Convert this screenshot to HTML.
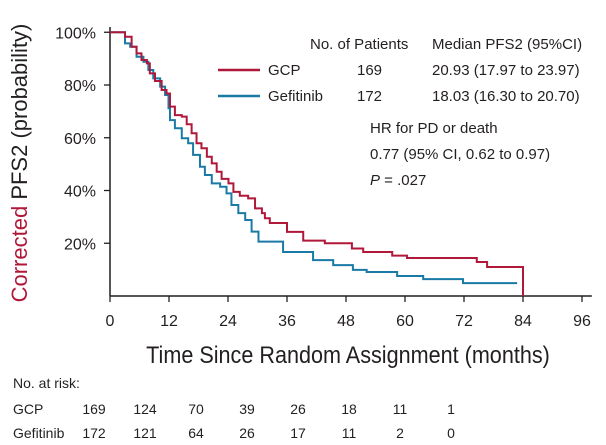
<!DOCTYPE html>
<html><head><meta charset="utf-8"><style>
body{margin:0;background:#fff;}
svg{display:block;font-family:"Liberation Sans",sans-serif;}
</style></head><body>
<svg id="chart" width="606" height="445" viewBox="0 0 606 445">
<g id="axes"></g>
<g id="curves"></g>
<text x="27" y="163" transform="rotate(-90 27 163)" text-anchor="middle" font-size="22" fill="#231f20"><tspan fill="#b0183a">Corrected</tspan> PFS2 (probability)</text>
<text x="348" y="363" text-anchor="middle" font-size="24" fill="#231f20" transform="translate(348 0) scale(0.9 1) translate(-348 0)">Time Since Random Assignment (months)</text>
<g font-size="15" fill="#231f20">
<text x="310" y="49">No. of Patients</text>
<text x="432" y="49">Median PFS2 (95%CI)</text>
<line x1="218" y1="70" x2="260" y2="70" stroke="#b0183a" stroke-width="2.5"/>
<text x="268" y="75">GCP</text>
<text x="357" y="75">169</text>
<text x="432" y="75">20.93 (17.97 to 23.97)</text>
<line x1="218" y1="96" x2="260" y2="96" stroke="#1a7aa6" stroke-width="2.5"/>
<text x="268" y="101">Gefitinib</text>
<text x="357" y="101">172</text>
<text x="432" y="101">18.03 (16.30 to 20.70)</text>
<text x="370" y="133">HR for PD or death</text>
<text x="370" y="159">0.77 (95% CI, 0.62 to 0.97)</text>
<text x="370" y="185"><tspan font-style="italic">P</tspan> = .027</text>
</g>
<g id="risk" font-size="14" fill="#231f20">
<text x="13" y="388">No. at risk:</text>
<text x="13" y="414">GCP</text>
<text x="13" y="438">Gefitinib</text>
</g>
</svg>
<script>
const xTicks=[0,12,24,36,48,60,72,84,96];
const yTicks=[20,40,60,80,100];
const gcpTime=[0,1.7,3.05,4.4,5.4,6.4,7.5,8.1,9.15,10.5,11.5,12.2,13.2,14.6,15.6,16.6,17.6,18.6,19.7,20.7,21.7,22.7,24.1,25.1,26.4,28.1,29.5,30.9,31.5,32.5,36,39.3,43.7,49.2,51.5,57.4,60.4,74.6,76.7,84];
const gcpSurv=[1,1,0.983,0.945,0.92,0.895,0.882,0.844,0.815,0.781,0.768,0.718,0.686,0.68,0.651,0.617,0.579,0.56,0.528,0.503,0.471,0.444,0.427,0.395,0.38,0.37,0.332,0.314,0.295,0.277,0.243,0.21,0.20,0.18,0.167,0.153,0.144,0.129,0.11,0];
const gefTime=[0,2,3.05,4.1,5.4,6.8,7.8,8.8,10.2,11.2,11.9,12.2,13.2,14.6,15.9,16.9,18.3,19.3,20.7,22.4,23.7,24.7,26.1,27.5,28.8,30.2,35.2,41.3,45.4,49.4,52.2,58.4,63.7,71.8,82.8];
const gefSurv=[1,1,0.958,0.945,0.907,0.888,0.857,0.825,0.794,0.762,0.712,0.667,0.636,0.598,0.579,0.535,0.49,0.459,0.427,0.414,0.389,0.345,0.314,0.288,0.244,0.206,0.167,0.136,0.117,0.099,0.091,0.076,0.064,0.049,0.049];
const riskMonths=[0,12,24,36,48,60,72,84];
const riskGCP=[169,124,70,39,26,18,11,1];
const riskGef=[172,121,64,26,17,11,2,0];
const NS="http://www.w3.org/2000/svg";
const X=m=>110+m*59/12, Y=p=>296-p*2.6375;
function mk(tag,attrs,parent,txt){const e=document.createElementNS(NS,tag);for(const k in attrs)e.setAttribute(k,attrs[k]);if(txt!==undefined)e.textContent=txt;parent.appendChild(e);return e;}
const ax=document.getElementById('axes');
let l=mk('line',{x1:X(0),y1:Y(0),x2:X(98),y2:Y(0),stroke:'#231f20','stroke-width':1.5},ax);


l=mk('line',{x1:X(0),y1:Y(0),x2:X(0),y2:Y(102),stroke:'#231f20','stroke-width':1.5},ax);


xTicks.forEach(t=>{
 const tk=mk('line',{x1:X(t),y1:Y(0),x2:X(t),y2:Y(0)+6,stroke:'#231f20','stroke-width':1.3},ax);
 
 
 const tx=mk('text',{x:X(t),y:326,'text-anchor':'middle','font-size':16,fill:'#231f20'},ax,String(t));
 
 
});
yTicks.forEach(t=>{
 const tk=mk('line',{x1:X(0)-6,y1:Y(t),x2:X(0),y2:Y(t),stroke:'#231f20','stroke-width':1.3},ax);
 
 
 const tx=mk('text',{x:96,y:Y(t)+6,'text-anchor':'end','font-size':16,fill:'#231f20'},ax,t+'%');
 
 
});
function stepPath(ts,ss){let d='M'+X(ts[0])+','+Y(ss[0]*100);for(let i=1;i<ts.length;i++){d+='H'+X(ts[i])+'V'+Y(ss[i]*100);}return d;}
const cv=document.getElementById('curves');
let p=mk('path',{d:stepPath(gefTime,gefSurv),fill:'none',stroke:'#1a7aa6','stroke-width':2},cv);


p=mk('path',{d:stepPath(gcpTime,gcpSurv),fill:'none',stroke:'#b0183a','stroke-width':2},cv);


const rk=document.getElementById('risk');
riskMonths.forEach((m,i)=>{
 const cx=94+i*51;
 let t=mk('text',{x:cx,y:414,'text-anchor':'middle'},rk,String(riskGCP[i]));
 
 
 t=mk('text',{x:cx,y:438,'text-anchor':'middle'},rk,String(riskGef[i]));
 
 
});
</script>
</body></html>
